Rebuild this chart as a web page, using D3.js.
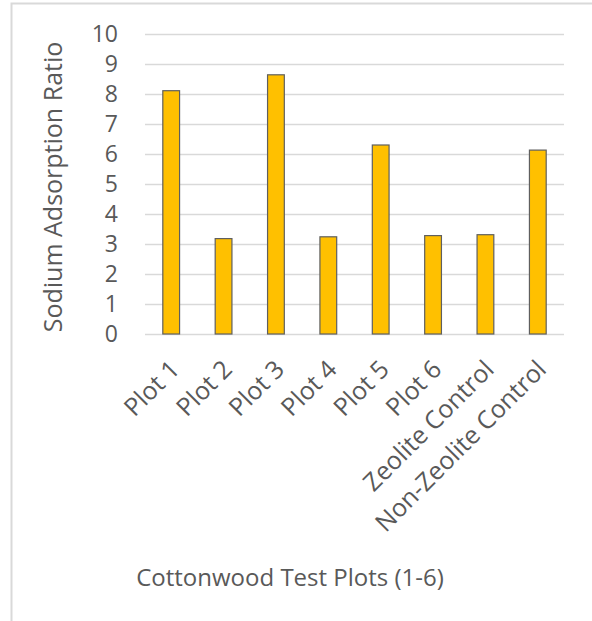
<!DOCTYPE html>
<html>
<head>
<meta charset="utf-8">
<script src="https://cdn.jsdelivr.net/npm/d3@7"></script>
<style>
  html, body { margin: 0; padding: 0; background: #fff; }
  text { font-family: "Open Sans", sans-serif; fill: #595959; }
</style>
</head>
<body>
<script>
const WIDTH = 592;
const HEIGHT = 621;

const categories = ["Plot 1", "Plot 2", "Plot 3", "Plot 4", "Plot 5", "Plot 6",
                    "Zeolite Control", "Non-Zeolite Control"];
const sarValues = [8.11, 3.18, 8.64, 3.24, 6.30, 3.28, 3.31, 6.13];
const yTicks = [0, 1, 2, 3, 4, 5, 6, 7, 8, 9, 10];

const margin = {top: 34, left: 145, right: 28, bottom: 287};

const svg = d3.select("body")
              .append("svg")
              .attr("width", WIDTH)
              .attr("height", HEIGHT);

// chart frame (only left and top edges show in the crop)
svg.append("path")
   .attr("d", "M11.5,621 V3.5 H592")
   .attr("fill", "none")
   .attr("stroke", "#d9d9d9")
   .attr("stroke-width", 2);

const x = d3.scaleBand()
            .domain(categories)
            .range([margin.left, WIDTH - margin.right])
            .paddingInner(0.68)
            .paddingOuter(0.34);

const y = d3.scaleLinear()
            .domain([0, 10])
            .range([HEIGHT - margin.bottom, margin.top]);

// gridlines
svg.append("g")
   .selectAll("line")
   .data(yTicks)
   .join("line")
   .attr("x1", margin.left)
   .attr("x2", WIDTH - margin.right)
   .attr("y1", d => Math.round(y(d)) + 0.5)
   .attr("y2", d => Math.round(y(d)) + 0.5)
   .attr("stroke", "#d9d9d9")
   .attr("stroke-width", 1.5);

// y axis labels
const yAxis = d3.axisLeft(y).tickValues(yTicks).tickSize(0).tickPadding(0);
svg.append("g")
   .attr("transform", "translate(118,0)")
   .call(yAxis)
   .call(g => g.select(".domain").remove())
   .selectAll("text")
   .attr("font-size", 23)
   .attr("font-family", "Open Sans, sans-serif")
   .attr("fill", "#595959");

// bars
svg.append("g")
   .selectAll("rect")
   .data(sarValues)
   .join("rect")
   .attr("x", (d, i) => x(categories[i]))
   .attr("y", d => y(d))
   .attr("width", x.bandwidth())
   .attr("height", d => y(0) - y(d))
   .attr("fill", "#ffc000")
   .attr("stroke", "#5f5f5f")
   .attr("stroke-width", 1.2);

// category labels
const xAxis = d3.axisBottom(x).tickSize(0).tickPadding(0);
svg.append("g")
   .attr("transform", "translate(0," + y(0) + ")")
   .call(xAxis)
   .call(g => g.select(".domain").remove())
   .selectAll("text")
   .attr("font-size", 25)
   .attr("font-family", "Open Sans, sans-serif")
   .attr("fill", "#595959")
   .attr("text-anchor", "end")
   .attr("dy", null)
   .attr("y", 0)
   .attr("transform", "translate(10,37) rotate(-45)");

// axis titles
svg.append("text")
   .attr("transform", "translate(62,187) rotate(-90)")
   .attr("text-anchor", "middle")
   .attr("font-size", 25)
   .text("Sodium Adsorption Ratio");

svg.append("text")
   .attr("x", 290)
   .attr("y", 586)
   .attr("text-anchor", "middle")
   .attr("font-size", 24)
   .text("Cottonwood Test Plots (1-6)");
</script>
</body>
</html>
